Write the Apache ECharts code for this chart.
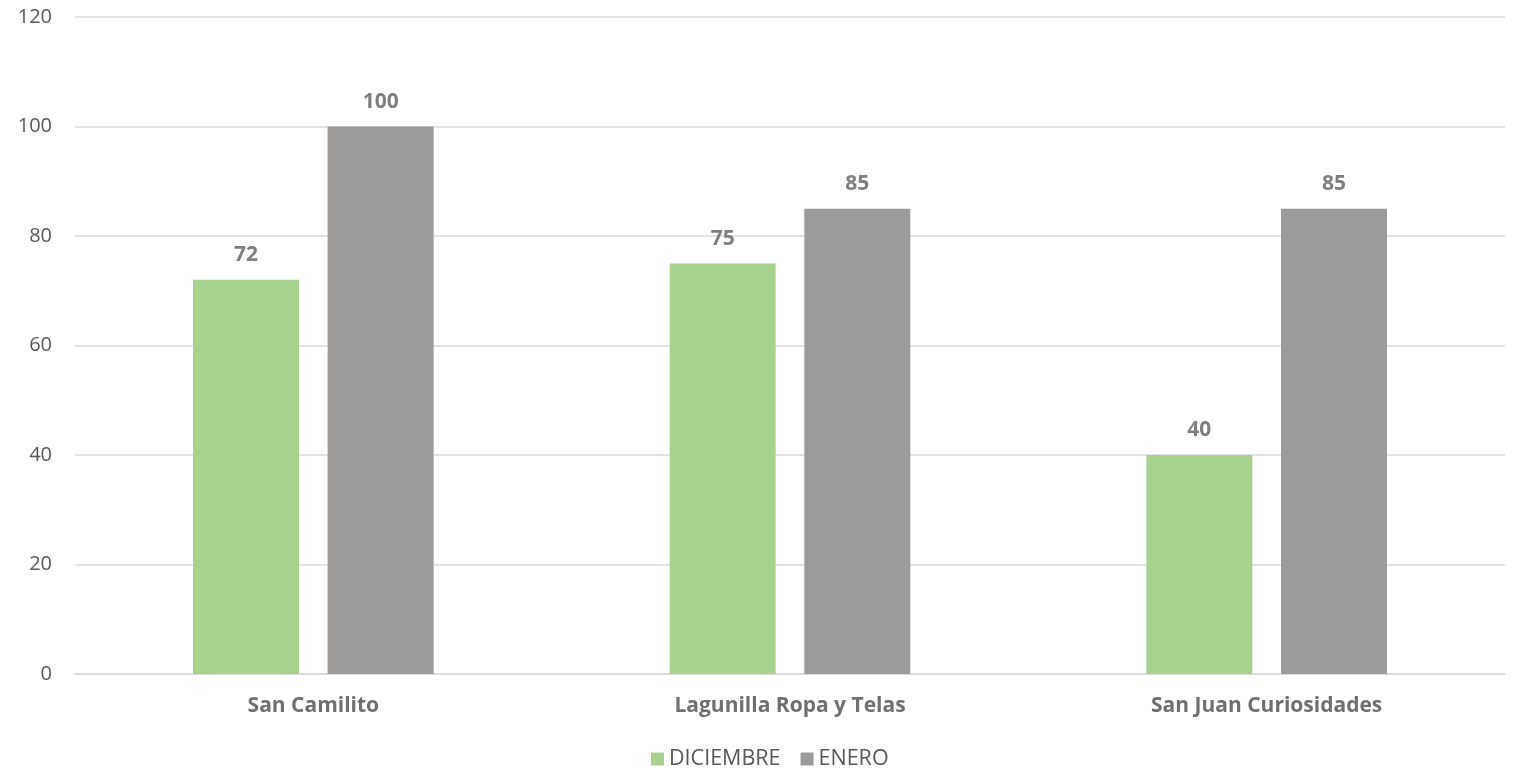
<!DOCTYPE html>
<html><head><meta charset="utf-8">
<script src="https://cdn.jsdelivr.net/npm/echarts@6/dist/echarts.min.js"></script>
<style>html,body{margin:0;padding:0;background:#fff}#c{width:1517px;height:769px}</style>
</head><body><div id="c"></div>
<script>
var categories = ['San Camilito', 'Lagunilla Ropa y Telas', 'San Juan Curiosidades'];
var diciembre = [72, 75, 40];
var enero = [100, 85, 85];
var seriesNames = ['DICIEMBRE', 'ENERO'];
var FONT = '"Open Sans", sans-serif';
var chart = echarts.init(document.getElementById('c'));
var labelStyle = {show: true, position: 'top', distance: 14, color: '#7f7f7f', fontWeight: 'bold', fontSize: 21, fontFamily: FONT};
chart.setOption({
  animation: false,
  textStyle: {fontFamily: FONT},
  grid: {left: 75, right: 12, top: 17, bottom: 95, containLabel: false},
  legend: {
    data: seriesNames, top: 745, left: 648, itemWidth: 13, itemHeight: 13, itemGap: 20,
    icon: 'rect', padding: [3, 3, 3, 3],
    textStyle: {color: '#595959', fontSize: 21.5, fontFamily: FONT}
  },
  xAxis: {
    type: 'category', data: categories,
    axisLine: {lineStyle: {color: '#d9d9d9', width: 1.5}},
    axisTick: {show: false},
    axisLabel: {color: '#6f6f6f', fontWeight: 'bold', fontSize: 21, margin: 22, fontFamily: FONT}
  },
  yAxis: {
    type: 'value', min: 0, max: 120, interval: 20,
    axisLine: {show: false}, axisTick: {show: false},
    splitLine: {lineStyle: {color: '#d9d9d9', width: 1.5}},
    axisLabel: {color: '#595959', fontSize: 20, margin: 23, fontFamily: FONT}
  },
  series: [
    {name: seriesNames[0], type: 'bar', data: diciembre, barWidth: 106, barGap: '27%',
     itemStyle: {color: '#a9d18e'}, label: labelStyle},
    {name: seriesNames[1], type: 'bar', data: enero, barWidth: 106,
     itemStyle: {color: '#9c9b99'}, label: labelStyle}
  ]
});
</script></body></html>
